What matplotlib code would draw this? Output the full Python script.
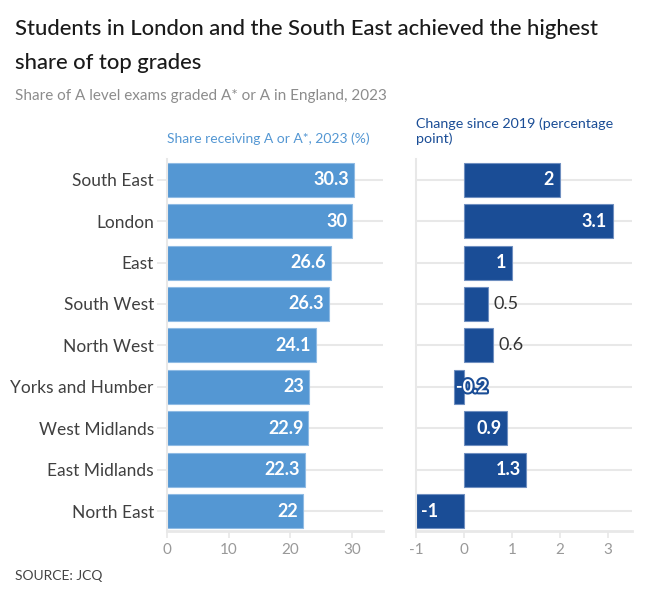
import numpy as np
import matplotlib.pyplot as plt
import matplotlib.patheffects as pe

plt.rcParams['font.family'] = ['Lato', 'DejaVu Sans']

regions = ["South East", "London", "East", "South West", "North West",
           "Yorks and Humber", "West Midlands", "East Midlands", "North East"]
share_2023 = [30.3, 30, 26.6, 26.3, 24.1, 23, 22.9, 22.3, 22]
change_2019 = [2, 3.1, 1, 0.5, 0.6, -0.2, 0.9, 1.3, -1]
share_labels = ["30.3", "30", "26.6", "26.3", "24.1", "23", "22.9", "22.3", "22"]
change_labels = ["2", "3.1", "1", "0.5", "0.6", "-0.2", "0.9", "1.3", "-1"]

light_blue = '#5497d3'
dark_blue = '#1a4d96'
grid_c = '#e8e8e8'

fig = plt.figure(figsize=(6.59, 5.90), dpi=100)
ax1 = fig.add_axes([0.2534, 0.1, 0.3278, 0.6305])
ax2 = fig.add_axes([0.6313, 0.1, 0.3277, 0.6305])

y = np.arange(len(regions))

for ax in (ax1, ax2):
    for s in ['top', 'right']:
        ax.spines[s].set_visible(False)
    ax.spines['left'].set_color(grid_c)
    ax.spines['bottom'].set_color(grid_c)
    ax.spines['left'].set_linewidth(1.5)
    ax.spines['bottom'].set_linewidth(2)
    ax.set_ylim(8.48, -0.5)
    ax.set_yticks(y)
    ax.grid(axis='y', color=grid_c, linewidth=1.5, zorder=0)
    ax.set_axisbelow(True)
    ax.tick_params(axis='x', colors='#999999', labelsize=11, length=5, width=1.2, color=grid_c)
    ax.tick_params(axis='y', length=7, width=1.2, color=grid_c, pad=2.5)

# left panel
ax1.barh(y, share_2023, height=0.82, color=light_blue, edgecolor='#8fbbe4', linewidth=0.8, zorder=2)
ax1.set_xlim(0, 35)
ax1.set_xticks([0, 10, 20, 30])
ax1.set_yticklabels(regions, fontsize=12.5, color='#404040')
for yi, v, lab in zip(y, share_2023, share_labels):
    ax1.text(v - 0.8, yi, lab, ha='right', va='center', color='white',
             fontsize=13, fontweight='bold', zorder=3)

# right panel
ax2.barh(y, change_2019, height=0.82, color=dark_blue, edgecolor='#6f8fc0', linewidth=0.8, zorder=2)
ax2.set_xlim(-1, 3.5)
ax2.set_xticks([-1, 0, 1, 2, 3])
ax2.set_xticklabels(["-1", "0", "1", "2", "3"])
ax2.set_yticklabels([])
ax2.tick_params(axis='y', length=0)
for yi, v, lab in zip(y, change_2019, change_labels):
    if v >= 0.8:
        ax2.text(v - 0.12, yi, lab, ha='right', va='center', color='white',
                 fontsize=13, fontweight='bold', zorder=3)
    elif v >= 0:
        ax2.text(v + 0.12, yi, lab, ha='left', va='center', color='#333333',
                 fontsize=13, zorder=3)
    elif v > -0.5:
        ax2.text(v + 0.03, yi, lab, ha='left', va='center', color='white',
                 fontsize=13, fontweight='bold', zorder=3,
                 path_effects=[pe.withStroke(linewidth=3, foreground=dark_blue)])
    else:
        ax2.text(v + 0.1, yi, lab, ha='left', va='center', color='white',
                 fontsize=13, fontweight='bold', zorder=3)

# headers
fig.text(167 / 659, 1 - 139 / 590, "Share receiving A or A*, 2023 (%)", color=light_blue,
         fontsize=10, va='center', ha='left')
fig.text(416 / 659, 1 - 124 / 590, "Change since 2019 (percentage", color=dark_blue,
         fontsize=10.3, va='center', ha='left')
fig.text(416 / 659, 1 - 139 / 590, "point)", color=dark_blue,
         fontsize=10.3, va='center', ha='left')

fig.text(15 / 659, 1 - 29 / 590, "Students in London and the South East achieved the highest",
         fontsize=15.8, color='#1a1a1a', va='center', ha='left', fontweight='medium')
fig.text(15 / 659, 1 - 63 / 590, "share of top grades",
         fontsize=15.8, color='#1a1a1a', va='center', ha='left', fontweight='medium')
fig.text(15 / 659, 1 - 96 / 590, "Share of A level exams graded A* or A in England, 2023",
         fontsize=11, color='#8c8c8c', va='center', ha='left')
fig.text(15 / 659, 1 - 576 / 590, "SOURCE: JCQ", fontsize=10, color='#444444',
         va='center', ha='left')

fig.savefig("out.png", dpi=100)
